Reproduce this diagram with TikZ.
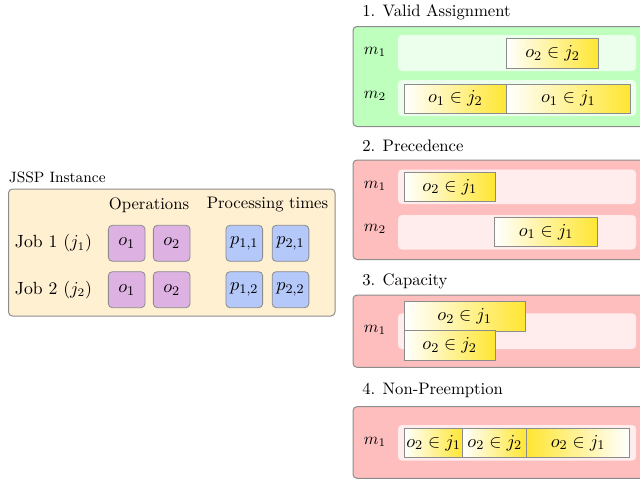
\documentclass[tikz,border=0pt]{standalone}
\begin{document}
\definecolor{jsspfill}{RGB}{255,240,210}
\definecolor{opfill}{RGB}{221,178,226}
\definecolor{ptfill}{RGB}{180,200,250}
\definecolor{okfill}{RGB}{190,255,190}
\definecolor{badfill}{RGB}{255,190,190}
\definecolor{blkyel}{RGB}{255,230,50}
\definecolor{edgegray}{RGB}{140,140,140}
\begin{tikzpicture}[x=0.6pt,y=-0.6pt,
  panel/.style={draw=edgegray, line width=0.6pt, rounded corners=2.4pt},
  rowbox/.style={fill=white, fill opacity=0.72, rounded corners=2.4pt},
  blk/.style={draw=edgegray, line width=0.5pt, inner sep=0pt, minimum height=17.6pt, left color=white, right color=blkyel, font=\fontsize{10.95}{13}\selectfont},
  blkrev/.style={blk, left color=blkyel, right color=white},
  bw/.style={minimum width=#1*0.6pt},
  cell/.style={draw=edgegray, line width=0.5pt, rounded corners=2.4pt, minimum width=22pt, minimum height=21.6pt, inner sep=0pt, font=\fontsize{10.95}{13}\selectfont},
  joblabel/.style={font=\fontsize{10.6}{13}\selectfont},
  title/.style={anchor=west, inner sep=0pt}
]
\useasboundingbox (0,0) rectangle (640,479);
\clip (0,0) rectangle (640,479);

% ---------- JSSP instance ----------
\node[title, font=\small] (jt) at (8.5,177) {JSSP Instance};
\draw[panel, fill=jsspfill] (8.5,189) rectangle (335,316);
\node (ops) at (149,205) {Operations};
\node (pts) at (267.5,205) {Processing times};
\node[joblabel] (job1) at (53.5,243.3) {Job 1 ($j_1$)};
\node[joblabel] (job2) at (53.5,289.7) {Job 2 ($j_2$)};
\node[cell, fill=opfill] (o11) at (126.7,243.3) {$o_1$};
\node[cell, fill=opfill] (o12) at (171.7,243.3) {$o_2$};
\node[cell, fill=opfill] (o21) at (126.7,289.7) {$o_1$};
\node[cell, fill=opfill] (o22) at (171.7,289.7) {$o_2$};
\node[cell, fill=ptfill] (p11) at (244.3,243.3) {$p_{1,1}$};
\node[cell, fill=ptfill] (p21) at (290.5,243.3) {$p_{2,1}$};
\node[cell, fill=ptfill] (p12) at (244.3,289.7) {$p_{1,2}$};
\node[cell, fill=ptfill] (p22) at (290.5,289.7) {$p_{2,2}$};

% ---------- 1. Valid assignment ----------
\node[title] (t1) at (362,12) {1. Valid Assignment};
\draw[panel, fill=okfill] (353,26.5) rectangle (670,126.5);
\fill[rowbox] (398,35) rectangle (636,71);
\fill[rowbox] (398,80) rectangle (636,116);
\node (a1) at (375,52) {$m_1$};
\node (a2) at (375,96) {$m_2$};
\node[blk, bw=91.6] (b11) at (552.5,53.3) {$o_2\in j_2$};
\node[blk, bw=102.7] (b21) at (455.3,98.7) {$o_1\in j_2$};
\node[blk, bw=123.3] (b22) at (568.3,98.7) {$o_1\in j_1$};

% ---------- 2. Precedence ----------
\node[title] (t2) at (362,146) {2. Precedence};
\draw[panel, fill=badfill] (353,160) rectangle (670,259.5);
\fill[rowbox] (398,169.5) rectangle (636,204);
\fill[rowbox] (398,215) rectangle (636,249.5);
\node (c1) at (375,186) {$m_1$};
\node (c2) at (375,229) {$m_2$};
\node[blk, bw=90.7] (d11) at (449.7,187) {$o_2\in j_1$};
\node[blk, bw=103.4] (d21) at (546,232) {$o_1\in j_1$};

% ---------- 3. Capacity ----------
\node[title] (t3) at (362,281) {3. Capacity};
\draw[panel, fill=badfill] (353,295) rectangle (670,367.3);
\fill[rowbox] (398,313.3) rectangle (636,349);
\node (e1) at (375,330) {$m_1$};
\node[blk, bw=120.7] (f11) at (464.65,316.35) {$o_2\in j_1$};
\node[blk, bw=90.7] (f12) at (449.65,345.5) {$o_2\in j_2$};

% ---------- 4. Non-Preemption ----------
\node[title] (t4) at (362,390) {4. Non-Preemption};
\draw[panel, fill=badfill] (353,406.7) rectangle (670,478.3);
\fill[rowbox] (398,425) rectangle (636,460.7);
\node (g1) at (375,442) {$m_1$};
\node[blk, bw=58.4] (h1) at (433.5,442.8) {$o_2\in j_1$};
\node[blk, bw=64] (h2) at (494.7,442.8) {$o_2\in j_2$};
\node[blkrev, bw=102.6] (h3) at (578,442.8) {$o_2\in j_1$};
\end{tikzpicture}
\end{document}
